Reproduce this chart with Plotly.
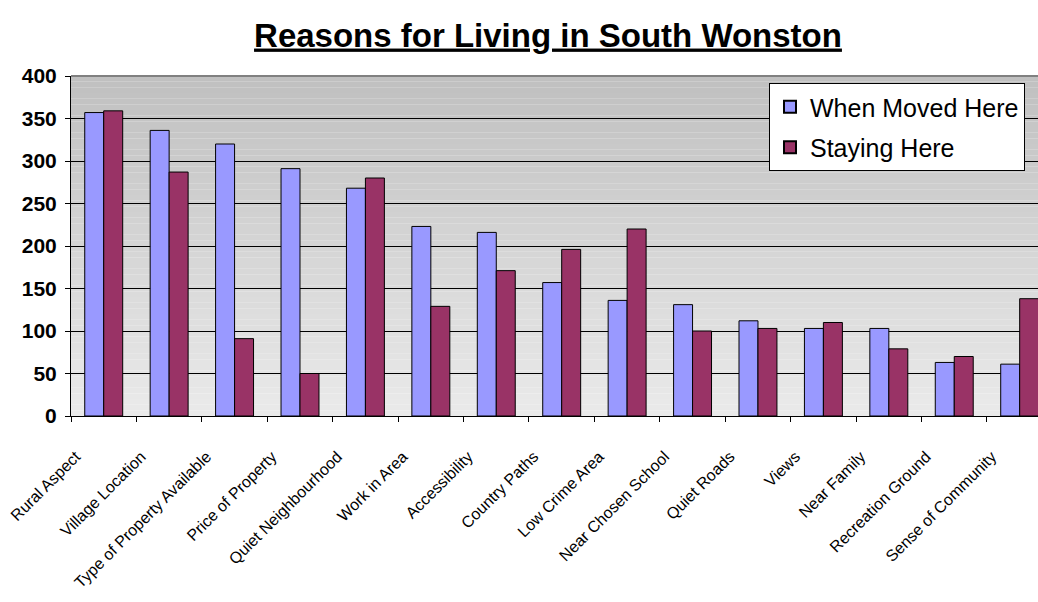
import plotly.graph_objects as go

categories = ["Rural Aspect", "Village Location", "Type of Property Available",
              "Price of Property", "Quiet Neighbourhood", "Work in Area",
              "Accessibility", "Country Paths", "Low Crime Area",
              "Near Chosen School", "Quiet Roads", "Views", "Near Family",
              "Recreation Ground", "Sense of Community"]
when_moved = [357, 336, 320, 291, 268, 223, 216, 157, 136, 131, 112, 103, 103, 63, 61]
staying = [359, 287, 91, 50, 280, 129, 171, 196, 220, 100, 103, 110, 79, 70, 138]
y_ticks = [0, 50, 100, 150, 200, 250, 300, 350, 400]

FONT = "Liberation Sans, Arial, sans-serif"

W, H = 1038, 602
L, T, B = 71, 76, 602 - 416

fig = go.Figure()
fig.add_trace(go.Bar(name="When Moved Here", x=categories, y=when_moved, legendgroup="a",
                     marker=dict(color="#9999FF", line=dict(color="black", width=1))))
fig.add_trace(go.Bar(name="Staying Here", x=categories, y=staying, legendgroup="b",
                     marker=dict(color="#993366", line=dict(color="black", width=1))))

# gradient background as thin bands
shapes = []
n = 60
top = (192, 192, 192)
bot = (234, 234, 234)
for i in range(n):
    t = i / (n - 1)
    c = tuple(int(round(top[k] + (bot[k] - top[k]) * t)) for k in range(3))
    shapes.append(dict(type="rect", xref="paper", yref="paper",
                       x0=0, x1=1, y0=1 - (i + 1) / n, y1=1 - i / n,
                       fillcolor="rgb(%d,%d,%d)" % c, line=dict(width=0), layer="below"))
shapes.append(dict(type="line", xref="paper", yref="paper", x0=0, x1=1, y0=1, y1=1,
                   line=dict(color="#808080", width=2)))

pw = W - L
ph = H - T - B
fig.update_layout(
    width=W, height=H,
    margin=dict(l=L, r=0, t=T, b=B, pad=0, autoexpand=False),
    paper_bgcolor="white",
    plot_bgcolor="rgba(0,0,0,0)",
    font=dict(family=FONT, color="black"),
    title=dict(text="<u><b>Reasons for Living in South Wonston</b></u>",
               x=548 / W, xref="container", xanchor="center",
               y=1 - 35 / H, yref="container", yanchor="middle",
               font=dict(size=33, family=FONT, color="black")),
    barmode="group", bargap=0.42, bargroupgap=0,
    shapes=shapes,
    showlegend=True,
    legend=dict(x=(769 - L) / pw, y=1 - (83 - T) / ph, xanchor="left", yanchor="top",
                bgcolor="white", bordercolor="black", borderwidth=1,
                font=dict(size=25, family=FONT, color="black"),
                tracegroupgap=5, itemsizing="constant"),
)
fig.update_xaxes(range=[-0.5, 14.28], showline=True, linecolor="black", linewidth=1,
                 ticks="outside", tickson="boundaries", ticklen=5, tickcolor="black",
                 tickangle=-45, tickfont=dict(size=16, family=FONT, color="black"),
                 ticklabelshift=-28, ticklabelstandoff=24, showgrid=False)
fig.update_yaxes(range=[0, 400], tickvals=y_ticks, showline=True, linecolor="black",
                 linewidth=1, ticks="outside", ticklen=5, tickcolor="black",
                 showgrid=True, gridcolor="black", gridwidth=1, zeroline=False,
                 ticklabelstandoff=4,
                 tickfont=dict(size=21, family=FONT, color="black", weight="bold"))

fig.write_html("out.html", config={"displayModeBar": False},
               post_script="document.body.style.margin='0';document.body.style.overflow='hidden';")
